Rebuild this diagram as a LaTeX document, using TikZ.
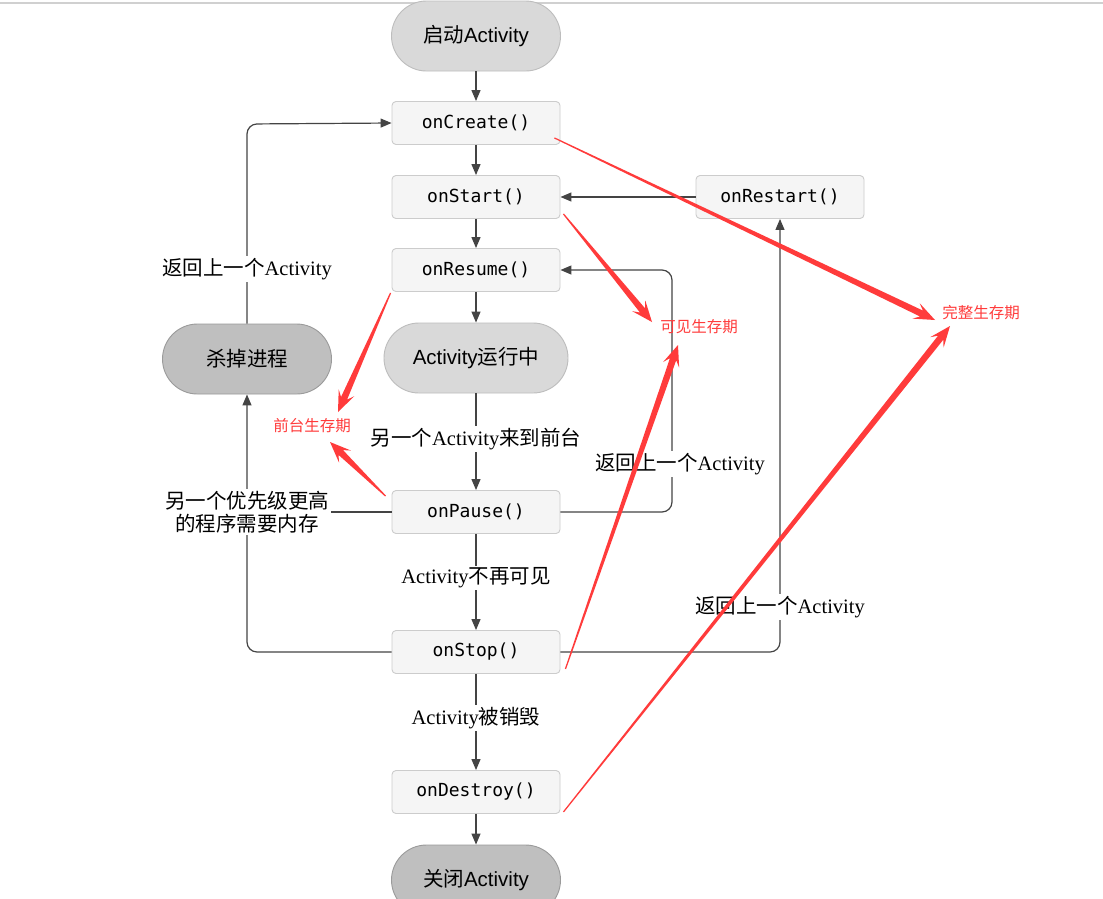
\documentclass[tikz,border=0pt]{standalone}
\usepackage{fontspec}
\setmainfont{Liberation Serif}
\setsansfont{Liberation Sans}
\setmonofont{DejaVu Sans Mono}
\newfontfamily\cjk{Noto Sans CJK SC}
\usetikzlibrary{arrows.meta,calc}
\definecolor{boxfill}{HTML}{F5F5F5}
\definecolor{boxline}{HTML}{CCCCCC}
\definecolor{pillfill}{HTML}{D9D9D9}
\definecolor{pillline}{HTML}{BDBDBD}
\definecolor{darkfill}{HTML}{BFBFBF}
\definecolor{darkline}{HTML}{9A9A9A}
\definecolor{conncol}{HTML}{444444}
\definecolor{annred}{HTML}{FF3B3B}
\definecolor{topline}{HTML}{D0D0D0}
\newcommand\redarrow[2]{%
  \coordinate (ra-j) at ($(#2)!15pt!(#1)$);
  \coordinate (ra-b) at ($(#2)!21pt!(#1)$);
  \fill[annred] ($(#1)!0.6pt!90:(#2)$) -- ($(ra-j)!3.3pt!90:(#2)$) -- ($(ra-b)!8.5pt!90:(#2)$) -- (#2)
     -- ($(ra-b)!8.5pt!-90:(#2)$) -- ($(ra-j)!3.3pt!-90:(#2)$) -- ($(#1)!0.6pt!-90:(#2)$) -- cycle;}
\begin{document}
\begin{tikzpicture}[x=1pt,y=-1pt,
  method/.style={draw=boxline, fill=boxfill, rounded corners=4pt, line width=0.9pt,
    minimum width=168pt, minimum height=43pt, inner sep=0pt,
    font=\ttfamily\fontsize{18}{20}\selectfont},
  pill/.style={draw=pillline, fill=pillfill, rounded corners=35pt, line width=0.9pt,
    minimum width=169pt, minimum height=70pt, inner sep=0pt,
    font=\sffamily\fontsize{20.5}{24}\selectfont},
  darkpill/.style={pill, draw=darkline, fill=darkfill},
  conn/.style={draw=conncol, line width=1.2pt, -{Triangle[length=11pt,width=9pt]}},
  plain/.style={draw=conncol, line width=1.2pt},
  lbl/.style={fill=white, inner sep=2pt, align=center, font=\fontsize{20.5}{24}\selectfont},
  note/.style={text=annred, inner sep=0pt, font=\cjk\fontsize{15.5}{18}\selectfont}]
\useasboundingbox (0,0) rectangle (1103,898);
\clip (0,0) rectangle (1103,898);
\fill[white] (0,0) rectangle (1103,898);
\draw[topline, line width=1.5pt] (0,3) -- (1103,3);

% nodes
\node[pill] (launch) at (476,36) {{\cjk 启动}Activity};
\node[method] (create) at (476,123) {onCreate()};
\node[method] (start) at (476,197) {onStart()};
\node[method] (resume) at (476,270) {onResume()};
\node[pill, minimum width=184pt] (running) at (476,358) {Activity{\cjk 运行中}};
\node[method] (pause) at (476,512) {onPause()};
\node[method] (stop) at (476,652) {onStop()};
\node[method] (destroy) at (476,792) {onDestroy()};
\node[darkpill] (close) at (476,880) {{\cjk 关闭}Activity};
\node[method] (restart) at (780,197) {onRestart()};
\node[darkpill] (kill) at (247,359) {\cjk 杀掉进程};

% connectors
\draw[conn] (launch) -- (create);
\draw[conn] (create) -- (start);
\draw[conn] (start) -- (resume);
\draw[conn] (resume) -- (running);
\draw[conn] (running) -- (pause);
\draw[conn] (pause) -- (stop);
\draw[conn] (stop) -- (destroy);
\draw[conn] (destroy) -- (close);
\draw[conn] (restart) -- (start);
\draw[conn, rounded corners=10pt] (kill.north) -- (247,124) -- (create.west);
\draw[conn, rounded corners=10pt] (pause.east) -- (672,512) -- (672,270) -- (resume.east);
\draw[conn, rounded corners=10pt] (stop.east) -- (780,652) -- (restart.south);
\draw[conn, rounded corners=10pt] (stop.west) -- (247,652) -- (kill.south);
\draw[plain] (pause.west) -- (247,512);

% labels
\node[lbl] (l1) at (247,269) {{\cjk 返回上一个}Activity};
\node[lbl] (l2) at (476,439) {{\cjk 另一个}Activity{\cjk 来到前台}};
\node[lbl] (l3) at (680,464) {{\cjk 返回上一个}Activity};
\node[lbl, font=\cjk\fontsize{20.5}{23}\selectfont] (l4) at (247,512) {另一个优先级更高\\的程序需要内存};
\node[lbl] (l5) at (476,578) {Activity{\cjk 不再可见}};
\node[lbl] (l6) at (780,607) {{\cjk 返回上一个}Activity};
\node[lbl] (l7) at (476,718) {Activity{\cjk 被销毁}};

% annotations
\node[note] (full) at (981,313) {完整生存期};
\node[note] (visible) at (699,327) {可见生存期};
\node[note] (fore) at (312,426) {前台生存期};
\coordinate (t1) at (935,320);
\coordinate (t2) at (950,326);
\coordinate (t3) at (652,322);
\coordinate (t4) at (678,345);
\coordinate (t5) at (338,412);
\coordinate (t6) at (330,442);
\coordinate (s1) at ($(create.south east)+(-6,-7)$);
\coordinate (s2) at ($(destroy.south east)+(3,-2)$);
\coordinate (s3) at ($(start.south east)+(3,-5)$);
\coordinate (s4) at ($(stop.south east)+(5,-5)$);
\coordinate (s5) at ($(resume.south west)+(-1,1)$);
\coordinate (s6) at ($(pause.north west)+(-6,6)$);
\redarrow{s1}{t1}
\redarrow{s2}{t2}
\redarrow{s3}{t3}
\redarrow{s4}{t4}
\redarrow{s5}{t5}
\redarrow{s6}{t6}
\end{tikzpicture}
\end{document}
